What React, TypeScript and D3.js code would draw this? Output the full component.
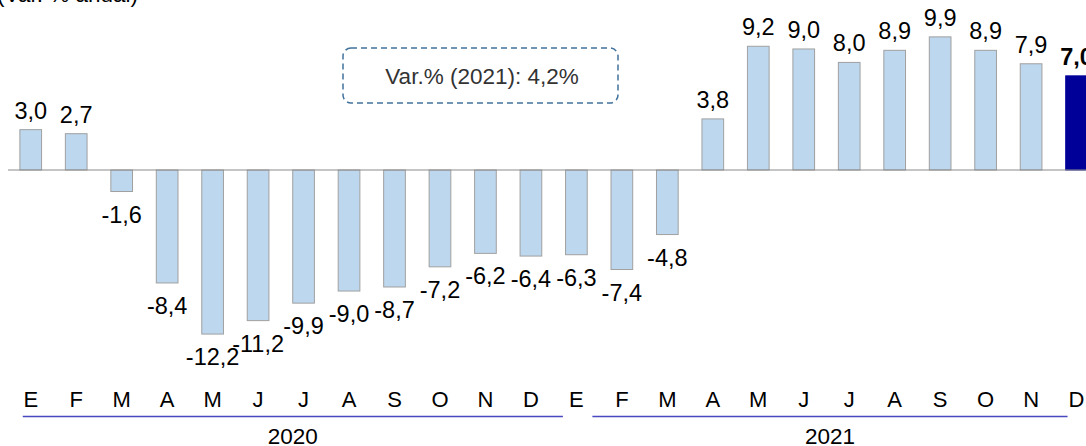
import React from 'react';
import * as d3 from 'd3';

// meses (2020 y 2021)
const months = ['E', 'F', 'M', 'A', 'M', 'J', 'J', 'A', 'S', 'O', 'N', 'D',
    'E', 'F', 'M', 'A', 'M', 'J', 'J', 'A', 'S', 'O', 'N', 'D'];
const values = [3.0, 2.7, -1.6, -8.4, -12.2, -11.2, -9.9, -9.0, -8.7, -7.2, -6.2, -6.4,
    -6.3, -7.4, -4.8, 3.8, 9.2, 9.0, 8.0, 8.9, 9.9, 8.9, 7.9, 7.0];
const years = ['2020', '2021'];
const title = '(Var. % anual)';
const note = 'Var.% (2021): 4,2%';

const W = 1086;
const H = 446;
const FONT = '"Liberation Sans", Arial, sans-serif';

const fmt = (v: number) => v.toFixed(1).replace('.', ',');

export default function App() {
    const idx = values.map((_, i) => i);
    const x = d3.scaleBand<number>()
        .domain(idx)
        .range([8, 1099.3])
        .paddingInner(0.523)
        .paddingOuter(0.2615);
    const y = d3.scaleLinear().domain([-12.5, 12.5]).range([338.1, 1.9]);
    const cx = (i: number) => (x(i) as number) + x.bandwidth() / 2;
    const last = values.length - 1;

    // lineas de los años
    const yearLines = [
        { x1: cx(0) - 8, x2: cx(11) + 32 },
        { x1: cx(12) + 16, x2: cx(23) - 9 },
    ];

    return (
        <svg width={W} height={H} style={{ position: 'absolute', left: 0, top: 0, fontFamily: FONT }}>
            <text x={138} y={2} fontSize={22.5} textAnchor="end" fill="#000">{title}</text>

            <rect x={343} y={48} width={275} height={55} rx={8} fill="none"
                stroke="#41719C" strokeWidth={1.5} strokeDasharray="6,4" />
            <text x={482} y={84} fontSize={22.5} textAnchor="middle" fill="#333">{note}</text>

            {values.map((v, i) => (
                <rect key={'b' + i}
                    x={x(i)}
                    y={y(Math.max(0, v))}
                    width={x.bandwidth()}
                    height={Math.abs(y(v) - y(0))}
                    fill={i === last ? '#000099' : '#BDD7EE'}
                    stroke={i === last ? '#000099' : '#A0A0A0'}
                    strokeWidth={1} />
            ))}

            <line x1={8} x2={W} y1={y(0)} y2={y(0)} stroke="#8C8C8C" strokeWidth={1.2} />

            {values.map((v, i) => (
                <text key={'l' + i}
                    x={cx(i)}
                    y={v >= 0 ? y(v) - 11 : y(v) + 31}
                    fontSize={23.5}
                    fontWeight={i === last ? 'bold' : 'normal'}
                    textAnchor="middle"
                    fill="#000">{fmt(v)}</text>
            ))}

            {months.map((m, i) => (
                <text key={'m' + i} x={cx(i)} y={407} fontSize={22} textAnchor="middle" fill="#000">{m}</text>
            ))}

            {years.map((yr, k) => (
                <g key={yr}>
                    <line x1={yearLines[k].x1} x2={yearLines[k].x2} y1={416.5} y2={416.5}
                        stroke="#4A4AC0" strokeWidth={1.6} />
                    <text x={(yearLines[k].x1 + yearLines[k].x2) / 2} y={444} fontSize={22.5}
                        textAnchor="middle" fill="#000">{yr}</text>
                </g>
            ))}
        </svg>
    );
}
